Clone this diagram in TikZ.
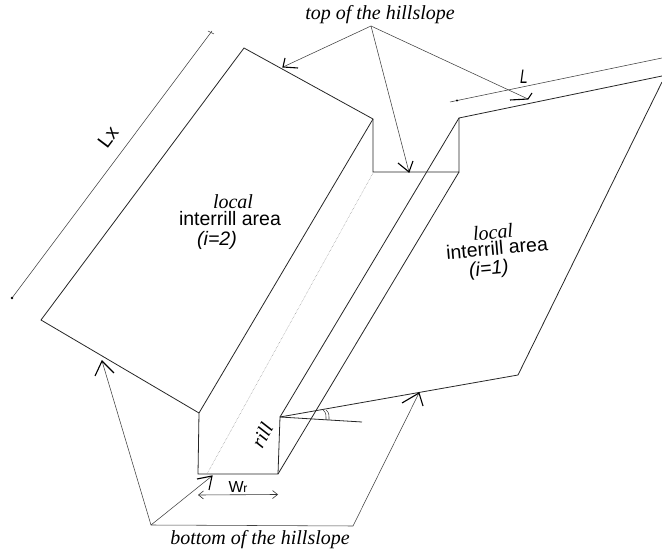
\documentclass[tikz,border=0pt]{standalone}
\usepackage{fontspec}
\setmainfont{Liberation Serif}
\setsansfont{Liberation Sans}
\usetikzlibrary{arrows.meta}
\tikzset{
  x=1pt,y=-1pt,
  edge/.style={draw=black!85,line width=0.8pt},
  thin edge/.style={draw=black!75,line width=0.55pt},
  centre/.style={draw=black!45,line width=0.5pt,densely dotted},
  barb/.style={draw=black,line width=1.1pt},
  caption/.style={font=\rmfamily\itshape\fontsize{20}{20}\selectfont,inner sep=0pt},
  serifit/.style={font=\rmfamily\itshape\fontsize{20}{20}\selectfont,inner sep=0pt},
  plain/.style={font=\sffamily\fontsize{19.5}{20}\selectfont,inner sep=0pt},
  slant/.style={font=\sffamily\itshape\fontsize{19.5}{20}\selectfont,inner sep=0pt},
  openarrow/.style={draw=black!80,line width=0.6pt,<->,>={Straight Barb[length=5pt,width=8pt]}},
}
\begin{document}
\begin{tikzpicture}
\useasboundingbox (0,0) rectangle (662,553);
% outline points
\coordinate (A) at (41,320);
\coordinate (B) at (244,48);
\coordinate (C) at (373,119);
\coordinate (D) at (373,172);
\coordinate (E) at (459,172);
\coordinate (F) at (459,118);
\coordinate (G) at (662,76);
\coordinate (H) at (662,82);
\coordinate (I) at (518,375);
\coordinate (J) at (280,417);
\coordinate (K) at (278,474);
\coordinate (M) at (198,474);
\coordinate (N) at (199,413);
\coordinate (Q) at (207,474);
\coordinate (R) at (373,173);
\coordinate (S) at (362,422);
% block and rill edges
\draw[edge] (N) -- (A) -- (B) -- (C) -- (D) -- (E) -- (F) -- (G);
\draw[edge] (H) -- (I) -- (J) -- (K) -- (M) -- (N) -- (C);
\draw[edge] (F) -- (J);
\draw[edge] (E) -- (K);
\draw[centre] (Q) -- (R);
\draw[edge] (J) -- (S);
% slope angle
\coordinate (arc1a) at (323,410);
\coordinate (arc1b) at (326,420);
\coordinate (arc2a) at (326,410);
\coordinate (arc2b) at (329,420);
\draw[thin edge] (arc1a) .. controls (326,413) .. (arc1b);
\draw[thin edge] (arc2a) .. controls (329,413) .. (arc2b);
% dimension lines
\coordinate (Lx1) at (12,298);
\coordinate (Lx2) at (212,31);
\draw[thin edge] (Lx1) -- (Lx2);
\coordinate (Lxt1) at (208,31);
\coordinate (Lxt2) at (214,34);
\draw[thin edge] (Lxt1) -- (Lxt2);
\fill[black] (Lx1) circle (1.3);
\coordinate (L1) at (450,102);
\coordinate (L2) at (662,58);
\draw[thin edge] (L1) -- (L2);
\fill[black] (457,100.5) circle (1.2);
\coordinate (W1) at (198,495);
\coordinate (W2) at (278,494.5);
\draw[openarrow] (W1) -- (W2);
% top leaders
\coordinate (T) at (371,26);
\coordinate (Ta) at (283,67);
\coordinate (Tb) at (409,172);
\coordinate (Tc) at (528,99);
\draw[thin edge] (T) -- (Ta);
\draw[thin edge] (T) -- (Tb);
\draw[thin edge] (T) -- (Tc);
\draw[barb] (285,58) -- (Ta) -- (298,68);
\draw[barb] (398,163) -- (Tb) -- (413,161);
\draw[barb] (510,100) -- (Tc) -- (532,93);
% bottom leaders
\coordinate (Bt) at (151,525);
\coordinate (Ba) at (102,361);
\coordinate (Bb) at (212,476);
\coordinate (Bc) at (353,526);
\coordinate (Bd) at (419,393);
\draw[thin edge] (Bt) -- (Ba);
\draw[thin edge] (Bt) -- (Bb);
\draw[thin edge] (Bt) -- (Bc) -- (Bd);
\draw[barb] (95,376) -- (Ba) -- (114,373);
\draw[barb] (197,479) -- (Bb) -- (209,490);
\draw[barb] (402,403) -- (Bd) -- (423,406);
% labels
\node[caption] (top) at (380,15) {top of the hillslope};
\node[caption] (bot) at (260,540) {bottom of the hillslope};
\node[serifit] (la) at (233,202) {local};
\node[plain] (lb) at (230,219) {interrill area};
\node[slant] (lc) at (217,240) {(i=2)};
\node[serifit,rotate=5] (ra) at (493,232) {local};
\node[plain,rotate=5] (rb) at (497,248) {interrill area};
\node[slant,rotate=5] (rc) at (489,270) {(i=1)};
\node[plain,rotate=53] (lx) at (108,137) {Lx};
\node[slant,xscale=0.7] (ll) at (524,77) {L};
\node[serifit,rotate=62] (rill) at (262,435) {rill};
\node[plain,font=\sffamily\fontsize{16}{16}\selectfont] (wr) at (238,487) {W\kern-0.5pt{\fontsize{12}{12}\selectfont r}};
\end{tikzpicture}
\end{document}
